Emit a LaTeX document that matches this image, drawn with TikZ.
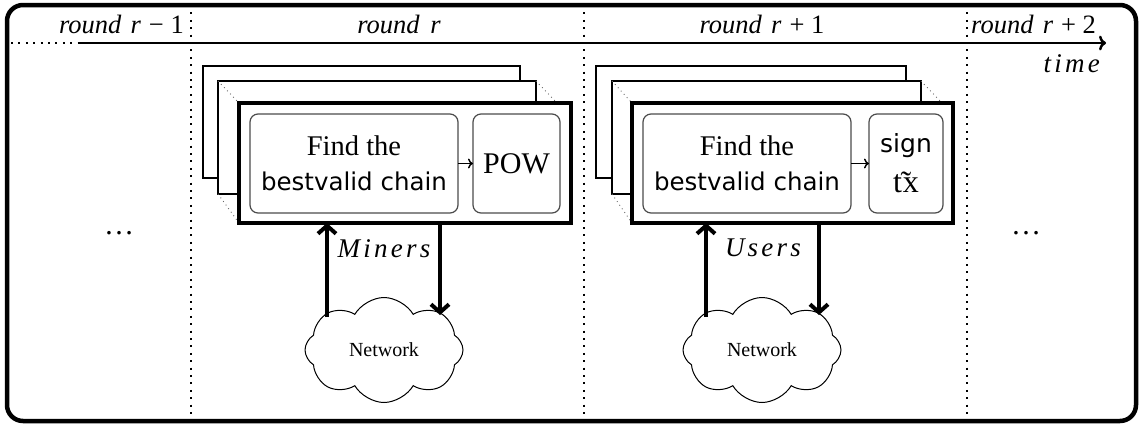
\documentclass[tikz,border=0pt]{standalone}
\usepackage{fontspec}
\setmainfont{Liberation Serif}
\setsansfont{DejaVu Sans}
\newfontfamily\spfont{Liberation Serif}[LetterSpace=12]
\usetikzlibrary{arrows.meta,shapes.symbols,calc}
\newcommand{\tildetx}{{\setbox0=\hbox{t\kern1pt x}\rlap{\hbox to\wd0{\hss\raisebox{-0.02em}{\char"02DC}\hss}}\box0}}
\begin{document}
\begin{tikzpicture}[x=1pt,y=-1pt,
  frame/.style={draw,line width=4.5pt,rounded corners=16pt,minimum width=1129pt,minimum height=416pt,anchor=north west,inner sep=0pt,outer sep=0pt},
  vdot/.style={line width=2pt,dash pattern=on 2pt off 5.4pt},
  axisline/.style={line width=2.5pt},
  lab/.style={font=\fontsize{26.5}{30}\selectfont\itshape,inner sep=0pt},
  splab/.style={font=\spfont\fontsize{27}{30}\selectfont\itshape,inner sep=0pt},
  backbox/.style={draw,line width=2pt,fill=white,anchor=north west,inner sep=0pt,outer sep=0pt},
  frontbox/.style={draw,line width=4.5pt,fill=white,anchor=north west,inner sep=0pt,outer sep=0pt},
  inbox/.style={draw=black!70,line width=1.2pt,rounded corners=8pt,fill=white,anchor=north west,inner sep=0pt,outer sep=0pt,align=center},
  diag/.style={black!60,line width=0.9pt,dash pattern=on 0.9pt off 3.5pt},
  bigarr/.style={line width=4pt,-{Straight Barb[length=8pt,width=18pt]}},
  smallarr/.style={line width=1.5pt,-{To[length=5pt,width=10pt]}},
  cloudst/.style={cloud,cloud puffs=8,cloud puff arc=120,cloud ignores aspect,draw,line width=1pt,minimum width=158pt,minimum height=105pt,inner sep=0pt,font=\fontsize{20}{24}\selectfont},
  dotsst/.style={font=\fontsize{30}{30}\selectfont,inner sep=0pt,anchor=base}
]
\useasboundingbox (0,0) rectangle (1141,426);
\node[frame] (frame) at (7,5) {};

% vertical dotted separators
\foreach \x/\n in {191/s1,584/s2,967/s3}{
  \coordinate (\n) at (\x,43);
  \draw[vdot] (\n |- frame.north) -- (\n |- frame.south);
}

% time axis
\coordinate (ax0) at (11,43);
\coordinate (ax1) at (80,43);
\coordinate (ax2) at (1106,43);
\draw[vdot] (ax0) -- (ax1);
\draw[axisline,-{To[length=7pt,width=15pt]}] (ax1) -- (ax2);

% round labels
\node[lab,anchor=base east] (l0) at (184,33) {round\hspace{0.35em}r\hspace{0.3em}\upshape−\hspace{0.25em}1};
\node[lab,anchor=base] (l1) at (399,33) {round\hspace{0.4em}r};
\node[lab,anchor=base] (l2) at (762,33) {round\hspace{0.35em}r\hspace{0.3em}\upshape+\hspace{0.25em}1};
\node[lab,anchor=base west] (l3) at (971,33) {round\hspace{0.35em}r\hspace{0.3em}\upshape+\hspace{0.25em}2};
\node[splab,anchor=base east] (tm) at (1100,72) {time};

% dots
\node[dotsst] (dl) at (119,234) {…};
\node[dotsst] (dr) at (1026,234) {…};

% ---- column r ----
\node[backbox,minimum width=317pt,minimum height=112pt] (back1) at (203,66) {};
\node[backbox,minimum width=318pt,minimum height=113pt] (mid1) at (218,81) {};
\coordinate (f1nw) at (239,103);
\coordinate (f1sw) at (239,223);
\draw[diag] (mid1.north west) -- (f1nw);
\draw[diag] (mid1.north east) -- ++(21,22);
\draw[diag] (mid1.south west) -- (f1sw);
\node[frontbox,minimum width=332pt,minimum height=120pt] (front1) at (f1nw) {};
\node[inbox,minimum width=208pt,minimum height=99pt,font=\fontsize{28.5}{35}\selectfont] (find1) at (250,114)
  {Find the\\{\sffamily\fontsize{24.5}{35}\selectfont bestvalid chain}};
\node[inbox,minimum width=87pt,minimum height=99pt,font=\fontsize{30}{35}\selectfont] (pow) at (473,114) {POW};
\draw[smallarr] (find1.east) -- (pow.west);
\node[cloudst] (cloud1) at (384,350) {Network};
\coordinate (u1) at ($(cloud1.center)+(-57,-33)$);
\coordinate (d1) at ($(cloud1.center)+(56,-35)$);
\draw[bigarr] (u1) -- (u1 |- front1.south);
\draw[bigarr] (d1 |- front1.south) -- (d1);
\node[splab,anchor=base] (miners) at (384,257) {Miners};

% ---- column r+1 ----
\node[backbox,minimum width=310pt,minimum height=112pt] (back2) at (596,66) {};
\node[backbox,minimum width=309pt,minimum height=113pt] (mid2) at (612,81) {};
\coordinate (f2nw) at (632,103);
\coordinate (f2sw) at (632,223);
\draw[diag] (mid2.north west) -- (f2nw);
\draw[diag] (mid2.north east) -- ++(21,22);
\draw[diag] (mid2.south west) -- (f2sw);
\node[frontbox,minimum width=321pt,minimum height=120pt] (front2) at (f2nw) {};
\node[inbox,minimum width=208pt,minimum height=99pt,font=\fontsize{28.5}{35}\selectfont] (find2) at (643,114)
  {Find the\\{\sffamily\fontsize{24.5}{35}\selectfont bestvalid chain}};
\node[inbox,minimum width=74pt,minimum height=99pt,font=\fontsize{32}{40}\selectfont] (sign) at (869,114)
  {{\sffamily\fontsize{25}{40}\selectfont sign}\\\tildetx};
\draw[smallarr] (find2.east) -- (sign.west);
\node[cloudst] (cloud2) at (762,350) {Network};
\coordinate (u2) at ($(cloud2.center)+(-56,-33)$);
\coordinate (d2) at ($(cloud2.center)+(57,-35)$);
\draw[bigarr] (u2) -- (u2 |- front2.south);
\draw[bigarr] (d2 |- front2.south) -- (d2);
\node[splab,anchor=base] (users) at (763,256) {Users};
\end{tikzpicture}
\end{document}
